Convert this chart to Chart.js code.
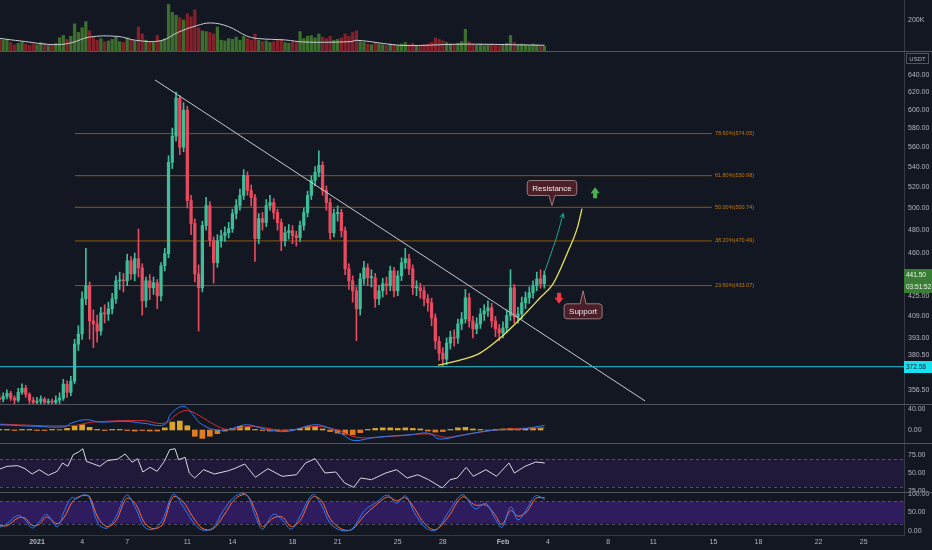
<!DOCTYPE html>
<html>
<head>
<meta charset="utf-8">
<script src="https://cdn.jsdelivr.net/npm/chart.js@4.4.1/dist/chart.umd.min.js"></script>
<style>
  html, body { margin: 0; padding: 0; background: #131722; }
  #wrap { width: 932px; height: 550px; }
</style>
</head>
<body>
<div id="wrap"><canvas id="chart" width="932" height="550"></canvas></div>
<script>
// ---- data (6h candles, x = days since 1 Jan 2021) ----
const firstCandle = -2.5, candleStep = 0.25;

const closes = [
  350.8, 352.7, 354.7, 351.5, 350.2, 355.3, 358, 354, 350.2, 348.8,
  349.5, 350.8, 348.8, 349.5, 348.8, 350.2, 351.5, 360.7, 355.3, 362.7,
  388.5, 395.9, 422.6, 432.9, 405.6, 403.4, 398.1, 411.7, 410.9, 414.8,
  422.6, 436.9, 437.7, 436.9, 453.5, 442.6, 455.2, 447.6, 421, 436.9,
  431.3, 435.3, 424.9, 449.3, 459.5, 544.3, 571.2, 613.2, 559.7, 599.6,
  507.1, 485.9, 442.6, 431.3, 484.1, 502.4, 470.7, 451.8, 470.7, 475.1,
  477.7, 481.3, 494.9, 502.4, 511.9, 531.3, 516.6, 509.9, 472.5, 490.4,
  486.8, 502.4, 505.2, 495.9, 486.8, 470.7, 477.7, 479.5, 475.1, 473.4,
  484.1, 495.9, 511.9, 526.3, 534.3, 541.3, 516.6, 505.2, 477.7, 494.9,
  495.9, 479.5, 446.8, 436.9, 428.9, 414.8, 438.5, 447.6, 439.5, 439.5,
  422.6, 428.9, 434.5, 432.9, 445.1, 428.9, 441, 451.8, 455.2, 446.8,
  431.3, 431.3, 428.9, 422.6, 419.5, 407.9, 390.7, 382.1, 377.9, 389.3,
  393.6, 392.9, 403.4, 407.1, 423.4, 405.6, 399.6, 403.4, 410.9, 413.2,
  415.6, 405.6, 399.6, 396.6, 400.4, 409.7, 431.3, 408.5, 410.9, 419.5,
  423.4, 427.3, 432.9, 438.5, 434.5, 441.5
];
const highs = [
  354, 355, 357, 356, 353, 358, 361, 360, 355, 352,
  352, 353, 352, 351, 351, 353, 355, 364, 363, 366,
  392, 402, 428, 464, 436, 414, 410, 416, 418, 420,
  427, 441, 444, 443, 459, 457, 460, 481, 451, 440,
  442, 440, 438, 452, 464, 551, 580, 620, 616, 608,
  604, 512, 490, 450, 488, 510, 506, 474, 476, 480,
  483, 487, 499, 508, 518, 537, 535, 522, 513, 495,
  496, 508, 512, 509, 499, 490, 483, 485, 484, 479,
  488, 500, 516, 531, 540, 556, 545, 521, 509, 499,
  502, 499, 483, 451, 441, 432, 443, 453, 451, 446,
  443, 433, 439, 440, 449, 448, 445, 456, 464, 459,
  450, 437, 435, 432, 426, 423, 411, 394, 386, 393,
  398, 399, 407, 412, 430, 427, 409, 408, 415, 418,
  421, 419, 409, 403, 405, 414, 446, 434, 416, 424,
  428, 432, 437, 444, 446, 445
];
const lows = [
  348, 349, 351, 350, 347, 349, 354, 352, 348, 346,
  346, 347, 346, 346, 345, 346, 348, 350, 352, 353,
  361, 384, 392, 418, 392, 386, 390, 395, 404, 406,
  411, 419, 430, 428, 433, 438, 437, 440, 410, 416,
  422, 426, 415, 421, 445, 456, 538, 566, 552, 555,
  500, 476, 436, 398, 428, 480, 466, 435, 448, 465,
  470, 473, 478, 490, 498, 508, 512, 502, 453, 468,
  480, 483, 498, 490, 480, 462, 466, 472, 468, 466,
  470, 480, 492, 508, 521, 530, 512, 498, 472, 474,
  488, 474, 442, 430, 420, 391, 410, 434, 433, 432,
  416, 418, 424, 426, 429, 424, 425, 437, 447, 442,
  426, 425, 423, 417, 413, 402, 385, 377, 372.6, 374,
  385, 387, 389, 399, 404, 401, 393, 396, 400, 406,
  409, 401, 394, 391, 393, 397, 406, 404, 404, 407,
  415, 419, 423, 429, 431, 431
];
const volumes = [ // thousands
  80, 70, 75, 55, 40, 50, 60, 45, 35, 45,
  40, 55, 50, 35, 45, 50, 85, 100, 75, 95,
  175, 120, 150, 190, 130, 90, 70, 80, 60, 65,
  75, 90, 60, 55, 85, 70, 65, 155, 110, 70,
  60, 55, 100, 70, 80, 300, 250, 230, 215, 200,
  240, 220, 265, 150, 130, 125, 120, 110, 155, 70,
  65, 80, 75, 90, 70, 95, 80, 70, 110, 70,
  60, 65, 55, 60, 70, 75, 55, 50, 60, 55,
  125, 80, 95, 100, 85, 110, 90, 80, 95, 70,
  75, 85, 110, 95, 120, 130, 60, 55, 45, 40,
  50, 45, 40, 35, 45, 40, 35, 45, 55, 40,
  50, 35, 30, 40, 45, 55, 85, 75, 65, 55,
  45, 40, 50, 60, 140, 60, 45, 40, 45, 35,
  40, 45, 40, 35, 40, 50, 100, 55, 40, 45,
  40, 35, 45, 40, 35, 30
];
const volMaTimes = [-2.46, -1.04, 1.1, 2.29, 3.48, 5.38, 6.57, 8.23, 9.42, 10.61, 11.56,
                    12.75, 13.93, 14.65, 16.55, 17.74, 20.83, 21.3, 23.68, 24.86, 28.43, 33.77];
const volMa =      [81, 64, 41, 53, 90, 94, 69, 66, 122, 163, 181,
                    157, 98, 81, 71, 58, 60, 69, 41, 35, 44, 37];

const macdTimes = [-2.46, -0.09, 1.82, 2.29, 3.24, 4.19, 5.86, 7.05, 8.47, 8.94, 9.77, 10.37, 10.85, 11.8, 12.75, 13.93,
                   15.12, 16.55, 18.45, 19.4, 20.35, 21.06, 22.49, 24.86, 26.05, 26.77, 27.95, 29.61, 30.8, 32, 33.77];
const macd =      [10, 7, 6, 13, 19.6, 15, 16.5, 13, 10, 32, 45, 29, 13, 0.6, 1, 10,
                   2, -3, 10, 4, -9, -20, -14, -9, -6, -17, -12, -3, 0.6, 1, 8.7];
const signalTimes = [-2.46, 2.29, 3.72, 7.05, 8.47, 9.42, 10.01, 10.85, 11.8, 12.75, 14.17,
                     16.55, 18.45, 19.87, 21.3, 23.68, 26.05, 27.24, 28.43, 30.8, 33.77];
const signal =      [11, 8, 15, 17.8, 13, 32, 37, 26.6, 10, 0.6, 7,
                     -0.6, 7, 1, -14, -12, -7.6, -14, -9, 0.6, 4.7];
const histStart = -2.5, histStep = 0.5;
const histogram = [
  1, 1, -1, 1, 1, -1, -1, 1, 0.5, 3,
  7, 10, 5, 1, -1, 1, 1, -1, -2, -1,
  -2, -2, 4, 15, 17, 8, -12, -16, -12, -7,
  -2, 3, 7, 5, 1, -1, -2, -1, -2, 1,
  3, 6, 7, 2, -3, -6, -8, -9, -5, 1,
  3, 4, 4, 3, 4, 3, 2, -2, -4, -3,
  1, 4, 5, 2, 1, -1, 1, 2, 3, 2,
  3, 3, 3
];

const rsiTimes = [-2.46, -1.99, -1.27, -0.8, -0.32, 0.15, 0.75, 1.34, 1.7, 2.05, 2.41, 2.77, 3.05, 3.29, 3.72, 4.19,
                  4.67, 5.38, 5.86, 6.33, 6.69, 7.04, 7.52, 7.99, 8.47, 8.83, 9.18, 9.42, 9.85, 10.13, 10.49, 11.08,
                  11.8, 12.75, 13.22, 13.82, 14.53, 15.36, 16.31, 17.26, 17.86, 18.5, 19.16, 19.88, 20.47, 21.07,
                  21.54, 22.25, 23.2, 23.92, 24.63, 25.34, 26.05, 26.96, 27.48, 27.96, 28.55, 29.03, 29.86, 30.57,
                  31.4, 31.76, 32.47, 33.18, 33.78];
const rsi =      [55.6, 59.3, 60.2, 56, 48.6, 54.6, 46.8, 52.3, 63.9, 59.3, 75.5, 79.2, 83.8, 66.2, 62.9, 59.3,
                  67.1, 69.4, 76.4, 64.9, 69.9, 51.4, 57.9, 52.3, 66.2, 82.4, 83.8, 68.5, 71.8, 50, 43.1, 54.6,
                  48.6, 53.2, 56.9, 62.5, 44, 56, 45.4, 47.6, 63.9, 69.9, 50, 51.4, 36.1, 30.1,
                  43.1, 40.7, 50, 54.6, 43.1, 47.6, 40.7, 29.2, 40.7, 43.1, 57.9, 45.4, 54.6, 45.4,
                  63.9, 50, 59.3, 65.3, 63.9];
const rsiUpper = 70, rsiLower = 30;

const stochTimes = [-2.46, -1.99, -1.27, -0.8, -0.32, 0.15, 0.63, 1.34, 1.82, 2.29,
                    2.65, 3.12, 3.48, 4.07, 4.67, 5.26, 5.97, 6.57, 7.16, 7.76,
                    8.35, 9.06, 9.66, 10.37, 10.97, 11.68, 12.39, 13.22, 13.94, 14.53,
                    15, 15.72, 16.31, 16.91, 17.5, 18.33, 18.92, 19.52, 20.23, 20.95,
                    21.78, 22.49, 23.32, 23.92, 24.51, 25.1, 25.82, 26.53, 27.36, 28.31,
                    29.15, 29.86, 30.45, 30.93, 31.52, 32, 32.59, 33.18, 33.78];
const stochK = [10, 20, 42, 30, 8, 25, 45, 12, 55, 90,
                88, 98, 90, 20, 8, 40, 97, 60, 10, 5,
                30, 99, 70, 25, 3, 8, 55, 95, 98, 40,
                5, 45, 30, 5, 40, 98, 70, 20, 2, 5,
                55, 75, 97, 75, 95, 50, 10, 2, 50, 98,
                60, 75, 35, 10, 65, 30, 60, 95, 85];
const stochD = [15, 14, 35, 35, 15, 18, 38, 20, 38, 75,
                90, 96, 94, 35, 12, 28, 88, 72, 22, 6,
                18, 92, 82, 38, 8, 5, 40, 88, 97, 55,
                12, 35, 38, 12, 28, 92, 82, 32, 6, 4,
                42, 68, 92, 82, 90, 62, 18, 4, 38, 92,
                70, 70, 45, 18, 55, 40, 52, 88, 90];
const stochUpper = 80, stochLower = 20;

// drawings
const fibLevels = [0.236, 0.382, 0.5, 0.618, 0.786];
const fibPrices = [433.07, 470.49, 500.74, 530.98, 574.05];
const fibStart = 2.53, fibEnd = 44.9;
const supportPrice = 372.58;
const lastPrice = 441.5, countdown = '03:51:52';
const trendTimes = [7.85, 40.45];
const trendPrices = [634.1, 349.7];
const curveTimes = [26.68, 28.14, 29.47, 30.81, 32.14, 33.47, 34.33, 35.26, 35.93, 36.26];
const curvePrices = [373.7, 377.2, 382.1, 392.9, 407.1, 423.4, 434.5, 459.5, 481.3, 499.6];
const pathTimes = [33.8, 34.26, 34.66, 35.0];
const pathPrices = [445.1, 462, 477.7, 494.9];

const xTickDays = [0, 3, 6, 10, 13, 17, 20, 24, 27, 31, 34, 38, 41, 45, 48, 52, 55];
const xTickLabels = ['2021', '4', '7', '11', '14', '18', '21', '25', '28', 'Feb', '4', '8', '11', '15', '18', '22', '25'];
const priceTicks = [640, 620, 600, 580, 560, 540, 520, 500, 480, 460, 425, 409, 393, 380.5, 356.5];

// ---- derived ----
const times = closes.map((_, i) => firstCandle + i * candleStep);
const opens = closes.map((c, i) => i ? closes[i - 1] : 351.5); // open = previous close
const histTimes = histogram.map((_, i) => histStart + i * histStep);

const FONT = '"Liberation Sans", Arial, sans-serif';
const UP = '#3dbd98', DOWN = '#e84a5f';
const candleColors = closes.map((c, i) => c >= opens[i] ? UP : DOWN);
const volColors = closes.map((c, i) => c >= opens[i] ? '#3d6e2e' : '#84202a');

const pts = (xs, ys) => xs.map((x, i) => ({ x, y: ys[i] }));
const line = (data, axis, color, extra) => Object.assign({
  type: 'line', data, yAxisID: axis, borderColor: color, borderWidth: 1,
  pointRadius: 0, fill: false, tension: 0, order: 0
}, extra || {});

function paneAxis(weight, min, max, tickValues, fmt, type) {
  return {
    type: type || 'linear', position: 'right', stack: 'panes', stackWeight: weight,
    min, max,
    grid: { display: false, drawTicks: false },
    border: { display: true, color: '#363a45' },
    ticks: { color: '#b2b5be', font: { size: 7, family: FONT }, padding: 4, autoSkip: false, callback: fmt },
    afterBuildTicks: s => { s.ticks = tickValues.map(v => ({ value: v })); },
    afterFit: s => { s.width = 28; s.paddingTop = 0; s.paddingBottom = 0; }
  };
}

const overlay = {
  id: 'overlay',
  beforeDatasetsDraw(chart) {
    const { ctx, chartArea: a, scales: s } = chart;
    ctx.save();
    const band = (sc, hi, lo, col) => {
      const y1 = sc.getPixelForValue(hi), y2 = sc.getPixelForValue(lo);
      ctx.fillStyle = col;
      ctx.fillRect(a.left, y1, a.right - a.left, y2 - y1);
      ctx.strokeStyle = 'rgba(150,150,170,0.45)';
      ctx.lineWidth = 1;
      ctx.setLineDash([3, 3]);
      [y1, y2].forEach(y => {
        ctx.beginPath();
        ctx.moveTo(a.left, Math.round(y) + 0.5);
        ctx.lineTo(a.right, Math.round(y) + 0.5);
        ctx.stroke();
      });
      ctx.setLineDash([]);
    };
    band(s.yRsi, rsiUpper, rsiLower, 'rgba(110,40,200,0.15)');
    band(s.yStoch, stochUpper, stochLower, 'rgba(110,40,240,0.3)');
    ctx.restore();
  },
  afterDraw(chart) {
    const { ctx, chartArea: a, scales: s } = chart;
    const W = chart.width;
    ctx.save();

    // pane separators
    ctx.strokeStyle = '#50545e';
    ctx.lineWidth = 1;
    [s.yPrice.top, s.yMacd.top, s.yRsi.top, s.yStoch.top].forEach(y => {
      ctx.beginPath();
      ctx.moveTo(0, Math.round(y) + 0.5);
      ctx.lineTo(W, Math.round(y) + 0.5);
      ctx.stroke();
    });

    // fib labels
    ctx.font = '5.5px ' + FONT;
    ctx.fillStyle = 'rgba(255,152,0,0.75)';
    ctx.textBaseline = 'middle';
    ctx.textAlign = 'left';
    fibLevels.forEach((lv, i) => {
      const x = s.x.getPixelForValue(fibEnd) + 3;
      const y = s.yPrice.getPixelForValue(fibPrices[i]);
      ctx.fillText((lv * 100).toFixed(2) + '%(' + fibPrices[i].toFixed(2) + ')', x, y);
    });

    // arrowhead on the projection path
    const n = pathTimes.length;
    const px = s.x.getPixelForValue(pathTimes[n - 1]), py = s.yPrice.getPixelForValue(pathPrices[n - 1]);
    const qx = s.x.getPixelForValue(pathTimes[n - 2]), qy = s.yPrice.getPixelForValue(pathPrices[n - 2]);
    const ang = Math.atan2(py - qy, px - qx);
    ctx.strokeStyle = '#26a69a';
    ctx.beginPath();
    ctx.moveTo(px - 5 * Math.cos(ang - 0.5), py - 5 * Math.sin(ang - 0.5));
    ctx.lineTo(px, py);
    ctx.lineTo(px - 5 * Math.cos(ang + 0.5), py - 5 * Math.sin(ang + 0.5));
    ctx.stroke();

    // callouts
    const callout = (text, t, p, boxAbove) => {
      const tx = s.x.getPixelForValue(t), ty = s.yPrice.getPixelForValue(p);
      ctx.font = '8px ' + FONT;
      const w = ctx.measureText(text).width + 10, h = 15, r = 3;
      const bx = tx - w / 2;
      const by = boxAbove ? ty - 10 - h : ty + 13;
      ctx.beginPath();
      ctx.moveTo(bx + r, by);
      if (!boxAbove) { ctx.lineTo(tx - 3, by); ctx.lineTo(tx, ty); ctx.lineTo(tx + 3, by); }
      ctx.lineTo(bx + w - r, by);
      ctx.arcTo(bx + w, by, bx + w, by + r, r);
      ctx.lineTo(bx + w, by + h - r);
      ctx.arcTo(bx + w, by + h, bx + w - r, by + h, r);
      if (boxAbove) { ctx.lineTo(tx + 3, by + h); ctx.lineTo(tx, ty); ctx.lineTo(tx - 3, by + h); }
      ctx.lineTo(bx + r, by + h);
      ctx.arcTo(bx, by + h, bx, by + h - r, r);
      ctx.lineTo(bx, by + r);
      ctx.arcTo(bx, by, bx + r, by, r);
      ctx.closePath();
      ctx.fillStyle = '#4a1f27';
      ctx.fill();
      ctx.strokeStyle = '#9b7a80';
      ctx.stroke();
      ctx.fillStyle = '#f3e6e8';
      ctx.textAlign = 'center';
      ctx.textBaseline = 'middle';
      ctx.fillText(text, tx, by + h / 2 + 0.5);
    };
    callout('Resistance', 34.26, 502.4, true);
    callout('Support', 36.33, 428.9, false);

    // signal arrows
    const arrow = (t, p, upward, color) => {
      const cx = s.x.getPixelForValue(t), cy = s.yPrice.getPixelForValue(p);
      const d = upward ? -1 : 1;
      ctx.fillStyle = color;
      ctx.beginPath();
      ctx.moveTo(cx, cy + d * 6);
      ctx.lineTo(cx + 4.5, cy);
      ctx.lineTo(cx + 2, cy);
      ctx.lineTo(cx + 2, cy - d * 5);
      ctx.lineTo(cx - 2, cy - d * 5);
      ctx.lineTo(cx - 2, cy);
      ctx.lineTo(cx - 4.5, cy);
      ctx.closePath();
      ctx.fill();
    };
    arrow(37.13, 514, true, '#4caf50');
    arrow(34.73, 423.4, false, '#f23645');

    // price tags on the axis
    const tag = (y, text, bg, fg) => {
      ctx.fillStyle = bg;
      ctx.fillRect(a.right, Math.round(y) - 6, W - a.right, 12);
      ctx.fillStyle = fg;
      ctx.font = '6.5px ' + FONT;
      ctx.textAlign = 'left';
      ctx.textBaseline = 'middle';
      ctx.fillText(text, a.right + 2, Math.round(y) + 0.5);
    };
    const yLast = s.yPrice.getPixelForValue(lastPrice);
    tag(yLast, lastPrice.toFixed(2), '#3a7d34', '#e8f5e9');
    tag(yLast + 12, countdown, '#3a7d34', '#e8f5e9');
    tag(s.yPrice.getPixelForValue(supportPrice), supportPrice.toFixed(2), '#16e3f2', '#0b1a20');

    // currency box
    ctx.strokeStyle = '#50545e';
    ctx.strokeRect(a.right + 2.5, s.yPrice.top + 2.5, 22, 10);
    ctx.fillStyle = '#b2b5be';
    ctx.font = '6px ' + FONT;
    ctx.textAlign = 'center';
    ctx.fillText('USDT', a.right + 13.5, s.yPrice.top + 8);
    ctx.restore();
  }
};

const datasets = [
  { type: 'bar', data: pts(times, lows.map((l, i) => [l, highs[i]])), yAxisID: 'yPrice',
    backgroundColor: candleColors, barThickness: 1, grouped: false, order: 2 },
  { type: 'bar', data: pts(times, opens.map((o, i) => [o, closes[i]])), yAxisID: 'yPrice',
    backgroundColor: candleColors, barThickness: 2.6, minBarLength: 1, grouped: false, order: 1 },
  { type: 'bar', data: pts(times, volumes), yAxisID: 'yVol',
    backgroundColor: volColors, barThickness: 2.6, grouped: false, order: 2 },
  line(pts(volMaTimes, volMa), 'yVol', '#c9ccd4', { tension: 0.4 }),
  { type: 'bar', data: pts(histTimes, histogram), yAxisID: 'yMacd',
    backgroundColor: histogram.map(v => v >= 0 ? '#d9a62a' : '#e07b22'), barThickness: 5, grouped: false, order: 2 },
  line(pts(macdTimes, macd), 'yMacd', '#2f7bf5', { tension: 0.4 }),
  line(pts(signalTimes, signal), 'yMacd', '#d32f2f', { tension: 0.4 }),
  line(pts(rsiTimes, rsi), 'yRsi', '#d8d8e0'),
  line(pts(stochTimes, stochK), 'yStoch', '#2f7bf5', { tension: 0.35 }),
  line(pts(stochTimes, stochD), 'yStoch', '#ff6d3a', { tension: 0.35 }),
  line(pts([firstCandle, 60], [supportPrice, supportPrice]), 'yPrice', '#26c6da'),
  line(pts(trendTimes, trendPrices), 'yPrice', '#c9c9cf'),
  line(pts(curveTimes, curvePrices), 'yPrice', '#e8e25a', { cubicInterpolationMode: 'monotone', borderWidth: 1.3 }),
  line(pts(pathTimes, pathPrices), 'yPrice', '#26a69a', { cubicInterpolationMode: 'monotone' })
];
fibPrices.forEach(p => {
  datasets.push(line(pts([fibStart, fibEnd], [p, p]), 'yPrice', 'rgba(255,152,0,0.5)', { order: 3 }));
});

new Chart(document.getElementById('chart'), {
  type: 'bar',
  data: { datasets },
  plugins: [overlay],
  options: {
    responsive: false,
    animation: false,
    events: [],
    layout: { padding: 0, autoPadding: false },
    plugins: { legend: { display: false }, tooltip: { enabled: false } },
    scales: {
      x: {
        type: 'linear', min: -2.462, max: 57.68, offset: false,
        grid: { display: false, drawTicks: false, offset: false },
        border: { display: true, color: '#363a45' },
        ticks: {
          color: '#b2b5be', padding: 3, autoSkip: false, maxRotation: 0,
          font: c => ({ size: 7, family: FONT, weight: (c.index === 0 || c.index === 9) ? 'bold' : 'normal' }),
          callback: (v, i) => xTickLabels[i]
        },
        afterBuildTicks: s => { s.ticks = xTickDays.map(v => ({ value: v })); },
        afterFit: s => { s.height = 15; s.paddingLeft = 0; s.paddingRight = 0; }
      },
      yVol: paneAxis(51, 0, 329, [200], v => v + 'K'),
      yPrice: paneAxis(353, 347.7, 669.1, priceTicks, v => Number(v).toFixed(2), 'logarithmic'),
      yMacd: paneAxis(39, -24.8, 49.5, [40, 0], v => Number(v).toFixed(2)),
      yRsi: paneAxis(49, 23.6, 91.7, [75, 50, 25], v => Number(v).toFixed(2)),
      yStoch: paneAxis(43, -10.8, 105.4, [100, 50, 0], v => Number(v).toFixed(2))
    }
  }
});
</script>
</body>
</html>
